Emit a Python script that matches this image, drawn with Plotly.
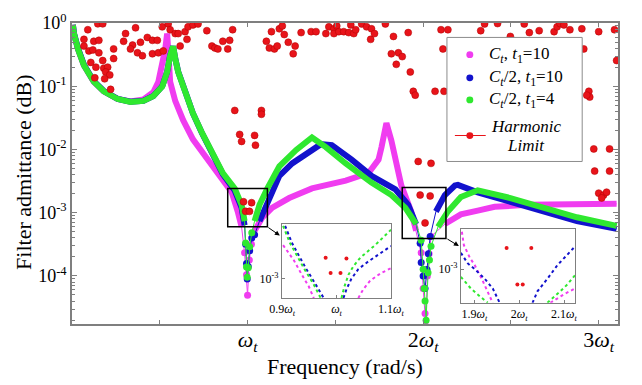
import plotly.graph_objects as go

# ---------------- main panel data (frequency in units of omega_t) ----------------
freq_ct10 = [0.005, 0.011, 0.034, 0.068, 0.124, 0.181, 0.260, 0.333, 0.407, 0.463, 0.492, 0.514,
             0.531, 0.542, 0.548, 0.559, 0.588, 0.633, 0.689, 0.751, 0.842, 0.910, 0.944, 0.966,
             0.983, 0.994, 1.000, 1.010, 1.022, 1.040, 1.085, 1.141, 1.237, 1.367, 1.559, 1.689,
             1.746, 1.763, 1.791, 1.819, 1.847, 1.876, 1.932, 1.960, 1.989, 2.000, 2.011, 2.016,
             2.024, 2.034, 2.045, 2.124, 2.215, 2.311, 2.407, 2.593, 2.876, 3.102]
adm_ct10 = [0.933, 0.676, 0.388, 0.214, 0.117, 0.0832, 0.063, 0.0575, 0.0617, 0.0804, 0.118, 0.214,
            0.388, 0.681, 0.274, 0.118, 0.0586, 0.0291, 0.01445, 0.00824, 0.00382, 0.0021, 0.001045, 0.000597,
            0.000232, 0.000104, 0.0000497, 0.000178, 0.000316, 0.000519, 0.000847, 0.0012, 0.001706, 0.00242, 0.00321, 0.00424,
            0.00692, 0.0109, 0.0262, 0.01393, 0.00601, 0.00269, 0.001045, 0.000519, 0.000232, 0.0000634, 0.0000255, 0.000016,
            0.0001, 0.000224, 0.000421, 0.000662, 0.00094, 0.00108, 0.00124, 0.00133, 0.00138, 0.00138]

freq_half10 = [0.005, 0.011, 0.034, 0.068, 0.124, 0.181, 0.260, 0.333, 0.407, 0.463, 0.514, 0.542,
               0.559, 0.576, 0.588, 0.605, 0.644, 0.689, 0.740, 0.785, 0.859, 0.927, 0.966, 0.983,
               0.989, 0.994, 0.998, 1.004, 1.012, 1.024, 1.040, 1.068, 1.124, 1.181, 1.254, 1.333,
               1.418, 1.480, 1.593, 1.706, 1.842, 1.915, 1.960, 1.983, 1.989, 2.000, 2.011, 2.022,
               2.030, 2.040, 2.073, 2.124, 2.181, 2.198, 2.311, 2.497, 2.689, 2.876, 3.102]
adm_half10 = [0.933, 0.69, 0.398, 0.219, 0.120, 0.0841, 0.0631, 0.0569, 0.0589, 0.0700, 0.100, 0.170,
              0.309, 0.427, 0.275, 0.170, 0.0841, 0.0372, 0.0182, 0.0100, 0.00407, 0.00224, 0.00120, 0.000631,
              0.000316, 0.000158, 0.0000891, 0.000141, 0.000251, 0.000398, 0.000447, 0.000736, 0.001706, 0.00382, 0.00601, 0.00855,
              0.01213, 0.0117, 0.00692, 0.00382, 0.00234, 0.001334, 0.000662, 0.000329, 0.000163, 0.0001, 0.0000634, 0.000126,
              0.000224, 0.000421, 0.001045, 0.00190, 0.00269, 0.00275, 0.0021, 0.00148, 0.001045, 0.000736, 0.000556]

freq_half4 = [0.005, 0.011, 0.034, 0.068, 0.124, 0.181, 0.260, 0.333, 0.407, 0.463, 0.514, 0.542,
              0.559, 0.576, 0.588, 0.605, 0.644, 0.689, 0.740, 0.785, 0.859, 0.927, 0.966, 0.983,
              0.989, 0.994, 0.998, 1.004, 1.012, 1.024, 1.040, 1.068, 1.113, 1.181, 1.277, 1.367,
              1.446, 1.559, 1.706, 1.819, 1.898, 1.960, 1.989, 2.000, 2.006, 2.011, 2.017, 2.028,
              2.036, 2.045, 2.085, 2.141, 2.215, 2.311, 2.497, 2.689, 2.876, 3.102]
adm_half4 = [0.933, 0.681, 0.388, 0.214, 0.118, 0.0832, 0.0628, 0.0566, 0.0586, 0.0698, 0.0991, 0.1675,
             0.304, 0.427, 0.274, 0.1675, 0.0832, 0.0372, 0.01845, 0.01019, 0.00424, 0.00242, 0.001334, 0.000736,
             0.000331, 0.000138, 0.0000955, 0.000135, 0.000290, 0.000480, 0.000736, 0.001334, 0.00242, 0.00542, 0.00982, 0.0155,
             0.0109, 0.00601, 0.00299, 0.00190, 0.00120, 0.000662, 0.000366, 0.000128, 0.0000631, 0.0000403, 0.0000200, 0.000112,
             0.000178, 0.000296, 0.000597, 0.001045, 0.001766, 0.00226, 0.001706, 0.00120, 0.000847, 0.000618]

harm_freq = [0.147, 0.175, 0.090, 0.305, 0.362, 0.068, 0.124, 0.153, 0.068, 0.096, 0.119, 0.153,
             0.237, 0.294, 0.345, 0.333, 0.390, 0.429, 0.458, 0.486, 0.373, 0.401, 0.458, 0.492,
             0.520, 0.107, 0.175, 0.237, 0.136, 0.181, 0.203, 0.192, 0.215, 0.130, 0.186, 0.220,
             0.514, 0.548, 0.559, 0.588, 0.605, 0.644, 0.661, 0.689, 0.718, 0.655, 0.616, 0.768,
             0.915, 0.859, 0.898, 0.797, 0.814, 0.831, 0.887,
             0.927, 0.955, 0.966, 1.040, 1.045, 1.079, 1.079, 0.977, 1.023, 0.989, 1.011,
             1.136, 1.181, 1.198, 1.107, 1.209, 1.232, 1.124, 1.153, 1.169, 1.271, 1.260, 1.305,
             1.362, 1.390, 1.446, 1.463, 1.492, 1.508, 1.492, 1.520, 1.548, 1.576, 1.605, 1.616,
             1.588, 1.650, 1.678, 1.706, 1.701, 1.723, 1.785, 1.831, 1.915, 1.819, 1.859, 1.881,
             1.847, 1.927, 1.944, 1.955, 2.068, 2.119,
             2.102, 2.141, 2.350, 2.328, 2.424, 2.497, 2.576, 2.605, 2.661, 2.746, 2.763, 2.780,
             2.802, 2.836, 2.904, 3.000, 2.113, 2.915, 3.102, 2.944, 2.949, 2.932, 2.972, 3.062,
             3.090, 2.977, 3.062, 3.000, 3.028, 3.045, 3.017,
             1.972, 2.045, 1.983, 2.040, 2.011]
harm_adm = [0.97, 0.97, 0.783, 0.680, 0.839, 0.551, 0.514, 0.532, 0.432, 0.362, 0.375, 0.338,
            0.389, 0.514, 0.447, 0.389, 0.496, 0.591, 0.532, 0.532, 0.338, 0.304, 0.326, 0.338,
            0.362, 0.238, 0.255, 0.274, 0.200, 0.193, 0.200, 0.168, 0.151, 0.136, 0.131, 0.0892,
            0.869, 0.966, 0.783, 0.680, 0.680, 0.730, 0.869, 0.933, 0.966, 0.551, 0.432, 0.756,
            0.783, 0.514, 0.532, 0.432, 0.403, 0.389, 0.389,
            0.0414, 0.0173, 0.0134, 0.0167, 0.0117, 0.0414, 0.0360, 0.00149, 0.00144, 0.00105, 0.00105,
            0.730, 0.810, 0.900, 0.514, 0.657, 0.496, 0.403, 0.389, 0.432, 0.432, 0.326, 0.705,
            0.730, 0.730, 0.680, 0.869, 0.810, 0.900, 0.680, 0.730, 0.730, 0.705, 0.680, 0.783,
            0.933, 0.966, 0.869, 0.810, 0.551, 0.680, 0.966, 0.613, 0.705, 0.326, 0.338, 0.294,
            0.222, 0.168, 0.0831, 0.0723, 0.0831, 0.0831,
            0.783, 0.783, 0.966, 0.756, 0.98, 0.613, 0.966, 0.705, 0.756, 0.730, 0.869, 0.98,
            0.933, 0.783, 0.810, 0.730, 0.389, 0.389, 0.255, 0.0831, 0.0674, 0.0723, 0.0102, 0.0102,
            0.783, 0.00455, 0.00455, 0.00204, 0.00190, 0.00211, 0.00171,
            0.00647, 0.00603, 0.00190, 0.00184, 0.00069]

# zoom windows marked on the main panel (x in omega_t, y admittance)
box_w1 = [0.887, 1.113, 0.000597, 0.00242]
box_w2 = [1.881, 2.130, 0.000392, 0.00251]

# ---------------- inset around omega_t ----------------
z1_ct10_x = [0.9018, 0.9218, 0.9364, 0.9491, 0.9582, None, 1.040, 1.0491, 1.0618, 1.0818, 1.100]
z1_ct10_y = [0.00152, 0.001256, 0.00105, 0.000908, 0.000787, None, 0.000787, 0.000877, 0.000977, 0.001074, 0.00114]
z1_half10_x = [0.9055, 0.9182, 0.9309, 0.9436, 0.9618, 0.9764, None, 1.0127, 1.0182, 1.0273, 1.040, 1.0582, 1.080, 1.100]
z1_half10_y = [0.00193, 0.00156, 0.001334, 0.00114, 0.000931, 0.000787, None, 0.000787, 0.000877, 0.001, 0.001127, 0.001239, 0.001365, 0.001503]
z1_half4_x = [0.9018, 0.9145, 0.9273, 0.9400, 0.9582, 0.9709, None, 1.0091, 1.0145, 1.0218, 1.0309, 1.0436, 1.0709, 1.100]
z1_half4_y = [0.00193, 0.00156, 0.001334, 0.00114, 0.000931, 0.000787, None, 0.000787, 0.000908, 0.00105, 0.001167, 0.0013, 0.00152, 0.00184]
z1_harm_x = [0.980, 1.0182, 0.9891, 1.0073]
z1_harm_y = [0.0013, 0.001285, 0.001074, 0.001074]

# ---------------- inset around 2 omega_t ----------------
z2_ct10_x = [1.8722, 1.8767, 1.890, 1.901, 1.9166, 1.9299, 1.941, None, 2.0696, 2.0851, 2.1006, 2.125]
z2_ct10_y = [0.001592, 0.001349, 0.001153, 0.00105, 0.000887, 0.000759, 0.000658, None, 0.000658, 0.000698, 0.000733, 0.000787]
z2_half10_x = [1.870, 1.8855, 1.901, 1.9232, 1.941, 1.9565, None, 2.0297, 2.0407, 2.0629, 2.0851, 2.1073, 2.125]
z2_half10_y = [0.001225, 0.001074, 0.001, 0.000887, 0.000787, 0.000658, None, 0.000658, 0.000759, 0.000887, 0.00105, 0.001197, 0.00133]
z2_half4_x = [1.870, 1.8922, 1.9121, 1.9299, None, 2.0629, 2.0784, 2.0917, 2.1073, 2.125]
z2_half4_y = [0.000908, 0.000787, 0.000714, 0.000658, None, 0.000658, 0.000706, 0.000759, 0.000826, 0.000931]
z2_harm_x = [1.972, 2.027, 1.996, 2.008]
z2_harm_y = [0.0013, 0.0013, 0.000826, 0.000826]

# legend entries
legend_labels = ["<i>C<sub>t</sub></i>, <i>t</i><sub>1</sub>=10",
                 "<i>C<sub>t</sub></i>/2, <i>t</i><sub>1</sub>=10",
                 "<i>C<sub>t</sub></i>/2, <i>t</i><sub>1</sub>=4"]
harm_label = ["<i>Harmonic</i>", "<i>Limit</i>"]

# ---------------- styling ----------------
FONT = "Liberation Serif"
MAGENTA = "#f03cf0"
BLUE = "#1212cc"
GREEN = "#2fe82f"
RED = "#e8141a"
AXIS = "#7f7f7f"
DIP_LEVEL = 5e-4   # below this level the resonance dips are shown as separate dots

# plot-area geometry (px) used to place the legend in paper units
PL, PW, PB, PH = 72, 549, 324, 313
def px(x):
    return (x - PL) / PW
def py(y):
    return (PB - y) / PH

series = [
    (freq_ct10, adm_ct10, MAGENTA),
    (freq_half10, adm_half10, BLUE),
    (freq_half4, adm_half4, GREEN),
]

fig = go.Figure()

for fx, fy, col in series:
    # thin connecting line through every sample
    fig.add_trace(go.Scatter(x=fx, y=fy, mode="lines", line=dict(color=col, width=1),
                             showlegend=False, hoverinfo="skip"))
    # dense band for the smooth part
    band = [v if v >= DIP_LEVEL else None for v in fy]
    fig.add_trace(go.Scatter(x=fx, y=band, mode="lines", connectgaps=False,
                             line=dict(color=col, width=6), showlegend=False, hoverinfo="skip"))
    # individual samples inside the notches
    dx = [a for a, v in zip(fx, fy) if v < DIP_LEVEL]
    dy = [v for v in fy if v < DIP_LEVEL]
    fig.add_trace(go.Scatter(x=dx, y=dy, mode="markers", showlegend=False,
                             marker=dict(color=col, size=7)))

fig.add_trace(go.Scatter(x=harm_freq, y=harm_adm, mode="markers", showlegend=False,
                         marker=dict(color=RED, size=7, line=dict(color="#b00000", width=0.5))))

# inset traces
def add_inset(xs_ys, xa, ya):
    for (xv, yv, col) in xs_ys:
        fig.add_trace(go.Scatter(x=xv, y=yv, xaxis=xa, yaxis=ya, mode="lines",
                                 line=dict(color=col, width=2, dash="dot"),
                                 showlegend=False, hoverinfo="skip"))

add_inset([(z1_ct10_x, z1_ct10_y, MAGENTA), (z1_half10_x, z1_half10_y, BLUE),
           (z1_half4_x, z1_half4_y, GREEN)], "x2", "y2")
fig.add_trace(go.Scatter(x=z1_harm_x, y=z1_harm_y, xaxis="x2", yaxis="y2", mode="markers",
                         marker=dict(color=RED, size=4), showlegend=False))
add_inset([(z2_ct10_x, z2_ct10_y, MAGENTA), (z2_half10_x, z2_half10_y, BLUE),
           (z2_half4_x, z2_half4_y, GREEN)], "x3", "y3")
fig.add_trace(go.Scatter(x=z2_harm_x, y=z2_harm_y, xaxis="x3", yaxis="y3", mode="markers",
                         marker=dict(color=RED, size=4), showlegend=False))

# zoom boxes
for bx in (box_w1, box_w2):
    fig.add_shape(type="rect", xref="x", yref="y", x0=bx[0], x1=bx[1], y0=bx[2], y1=bx[3],
                  line=dict(color="black", width=1.5))

# arrows from the boxes to the insets
for hx, hy, ax, ay in [(0.3807, 0.2939, -13, -9), (0.7086, 0.2588, -13, -8)]:
    fig.add_annotation(x=hx, y=hy, xref="paper", yref="paper", ax=ax, ay=ay,
                       axref="pixel", ayref="pixel", showarrow=True, arrowhead=2,
                       arrowsize=1, arrowwidth=1, arrowcolor="black", text="")

# ---------------- legend box ----------------
fig.add_shape(type="rect", xref="paper", yref="paper",
              x0=px(449), x1=px(585), y0=py(155), y1=py(26),
              line=dict(color="#8c8c8c", width=1), fillcolor="white")
rx, ry = 3.5 / PW, 3.5 / PH
for label, col, yc in zip(legend_labels, [MAGENTA, BLUE, GREEN], [44, 68, 91]):
    fig.add_shape(type="circle", xref="paper", yref="paper",
                  x0=px(472) - rx, x1=px(472) + rx, y0=py(yc) - ry, y1=py(yc) + ry,
                  fillcolor=col, line=dict(color=col, width=0))
    fig.add_annotation(x=px(489), y=py(yc), xref="paper", yref="paper", showarrow=False,
                       xanchor="left", yanchor="middle", text=label,
                       font=dict(family=FONT, size=17, color="black"))
fig.add_shape(type="line", xref="paper", yref="paper", x0=px(457), x1=px(488),
              y0=py(128), y1=py(128), line=dict(color=RED, width=1))
fig.add_shape(type="circle", xref="paper", yref="paper",
              x0=px(472) - rx, x1=px(472) + rx, y0=py(128) - ry, y1=py(128) + ry,
              fillcolor=RED, line=dict(color=RED, width=0))
for txt, yc in zip(harm_label, [119, 138]):
    fig.add_annotation(x=px(528), y=py(yc), xref="paper", yref="paper", showarrow=False,
                       xanchor="center", yanchor="middle", text=txt,
                       font=dict(family=FONT, size=17, color="black"))

# axis titles
fig.add_annotation(x=0.5, y=-0.14, xref="paper", yref="paper", showarrow=False,
                   xanchor="center", yanchor="middle",
                   text="Frequency (rad/s)", font=dict(family=FONT, size=22, color="black"))
fig.add_annotation(x=-0.088, y=0.505, xref="paper", yref="paper", showarrow=False,
                   xanchor="center", yanchor="middle",
                   textangle=-90, text="Filter admittance (dB)",
                   font=dict(family=FONT, size=22, color="black"))

w = "<i>\u03c9<sub>t</sub></i>"
minor_vals = [k * 10.0 ** d for d in range(-5, 0) for k in range(2, 10)]

fig.update_layout(
    width=642, height=385, autosize=False,
    margin=dict(l=72, r=21, t=11, b=61),
    paper_bgcolor="white", plot_bgcolor="white",
    font=dict(family=FONT, color="black"),
    showlegend=False,
    xaxis=dict(range=[0, 3.11], showgrid=False, zeroline=False, showline=True,
               linecolor=AXIS, linewidth=1.5, mirror="allticks", ticks="inside",
               ticklen=4, tickcolor=AXIS, ticklabelstandoff=-5,
               tickvals=[0.5, 1, 1.5, 2, 2.5, 3],
               ticktext=["", w, "", "2" + w, "", "3" + w],
               tickfont=dict(family=FONT, size=22)),
    yaxis=dict(type="log", range=[-4.76, 0], showgrid=False, zeroline=False, showline=True,
               linecolor=AXIS, linewidth=1.5, mirror="allticks", ticks="inside",
               ticklen=5, tickcolor=AXIS,
               tickvals=[1e-4, 1e-3, 1e-2, 1e-1, 1],
               ticktext=["10<sup>-4</sup>", "10<sup>-3</sup>", "10<sup>-2</sup>",
                         "10<sup>-1</sup>", "10<sup>0</sup>"],
               tickfont=dict(family=FONT, size=18),
               minor=dict(tickvals=minor_vals, ticks="inside", ticklen=3, tickcolor=AXIS)),
    xaxis2=dict(domain=[0.3843, 0.5847], anchor="y2", range=[0.8995, 1.1005],
                showgrid=False, zeroline=False, showline=True, linecolor=AXIS, linewidth=1,
                mirror=True, ticks="inside", ticklen=3, tickcolor=AXIS,
                tickvals=[0.9, 1.0, 1.1], ticktext=["0.9" + w, w, "1.1" + w],
                tickfont=dict(family=FONT, size=12)),
    yaxis2=dict(domain=[0.0863, 0.3323], anchor="x2", type="log", range=[-3.104, -2.704],
                showgrid=False, zeroline=False, showline=True, linecolor=AXIS, linewidth=1,
                mirror=True, ticks="inside", ticklen=3, tickcolor=AXIS,
                tickvals=[1e-3], ticktext=["10<sup>-3</sup>"],
                tickfont=dict(family=FONT, size=12)),
    xaxis3=dict(domain=[0.7122, 0.9217], anchor="y3", range=[1.87, 2.125],
                showgrid=False, zeroline=False, showline=True, linecolor=AXIS, linewidth=1,
                mirror=True, ticks="inside", ticklen=3, tickcolor=AXIS,
                tickvals=[1.9, 2.0, 2.1], ticktext=["1.9" + w, "2" + w, "2.1" + w],
                tickfont=dict(family=FONT, size=12)),
    yaxis3=dict(domain=[0.0703, 0.3163], anchor="x3", type="log", range=[-3.182, -2.782],
                showgrid=False, zeroline=False, showline=True, linecolor=AXIS, linewidth=1,
                mirror=True, ticks="inside", ticklen=3, tickcolor=AXIS,
                tickvals=[1e-3], ticktext=["10<sup>-3</sup>"],
                tickfont=dict(family=FONT, size=12)),
)

fig.write_html("out.html")
